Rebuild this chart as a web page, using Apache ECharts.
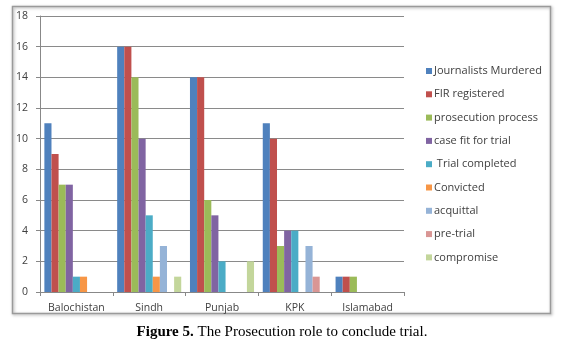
<!DOCTYPE html>
<html><head><meta charset="utf-8">
<script src="https://cdn.jsdelivr.net/npm/echarts@6/dist/echarts.min.js"></script>
<style>html,body{margin:0;padding:0;background:#fff}#c{width:564px;height:344px}</style>
</head><body><div id="c"></div>
<script>
const categories = ['Balochistan', 'Sindh', 'Punjab', 'KPK', 'Islamabad'];
const seriesNames = ['Journalists Murdered', 'FIR registered', 'prosecution process', 'case fit for trial', ' Trial completed', 'Convicted', 'acquittal', 'pre-trial', 'compromise'];
const journalistsMurdered = [11, 16, 14, 11, 1];
const firRegistered = [9, 16, 14, 10, 1];
const prosecutionProcess = [7, 14, 6, 3, 1];
const caseFitForTrial = [7, 10, 5, 4, 0];
const trialCompleted = [1, 5, 2, 4, 0];
const convicted = [1, 1, 0, 0, 0];
const acquittal = [0, 3, 0, 3, 0];
const preTrial = [0, 0, 0, 1, 0];
const compromise = [0, 1, 2, 0, 0];
const yTicks = [0, 2, 4, 6, 8, 10, 12, 14, 16, 18];
const colors = ['#4F81BD', '#C0504D', '#9BBB59', '#8064A2', '#4BACC6', '#F79646', '#95B3D7', '#D99694', '#C3D69B'];
const allData = [journalistsMurdered, firRegistered, prosecutionProcess, caseFitForTrial, trialCompleted, convicted, acquittal, preTrial, compromise];

const chart = echarts.init(document.getElementById('c'), null, {renderer: 'canvas'});
chart.setOption({
  animation: false,
  color: colors,
  grid: {left: 40, top: 16, right: 160, bottom: 52, containLabel: false},
  legend: {
    orient: 'vertical', left: 421, top: 60,
    icon: 'rect', itemWidth: 6, itemHeight: 6, itemGap: 11.3,
    textStyle: {fontFamily: 'Open Sans', fontSize: 11, color: '#404040', lineHeight: 12, padding: [0, 0, 0, -3]},
    data: seriesNames
  },
  xAxis: {
    type: 'category', data: categories,
    axisLine: {lineStyle: {color: '#888'}},
    axisTick: {show: true, length: 4, lineStyle: {color: '#888'}},
    axisLabel: {interval: 0, fontFamily: 'Open Sans', fontSize: 10.5, color: '#404040', margin: 11}
  },
  yAxis: {
    type: 'value', min: 0, max: 18, interval: 2,
    axisLine: {show: true, lineStyle: {color: '#888'}},
    axisTick: {show: true, length: 4, lineStyle: {color: '#888'}},
    splitLine: {lineStyle: {color: '#8a8a8a', width: 1}},
    axisLabel: {fontFamily: 'Open Sans', fontSize: 10.5, color: '#404040', margin: 12}
  },
  series: seriesNames.map((n, i) => ({
    name: n, type: 'bar', data: allData[i],
    barGap: '0%', barCategoryGap: '12%',
    itemStyle: {color: colors[i]}
  })),
  graphic: [
    {type: 'rect', shape: {x: 12.5, y: 6.5, width: 538, height: 307},
     style: {fill: null, stroke: '#9a9a9a', lineWidth: 1.5, shadowBlur: 3, shadowColor: 'rgba(0,0,0,0.35)', shadowOffsetX: 1, shadowOffsetY: 1}, z: -1},
    {type: 'text', left: 'center', top: 325,
     style: {text: '{b|Figure 5.} The Prosecution role to conclude trial.',
       rich: {b: {fontFamily: 'Liberation Serif', fontSize: 15, fontWeight: 'bold', fill: '#000'}},
       fontFamily: 'Liberation Serif', fontSize: 15, fill: '#000'}}
  ]
});
</script></body></html>
